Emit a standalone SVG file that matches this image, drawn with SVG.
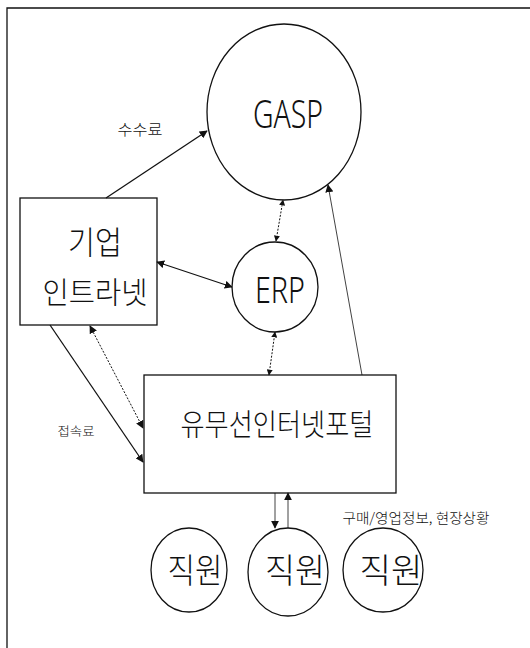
<svg xmlns="http://www.w3.org/2000/svg" width="530" height="648" viewBox="0 0 530 648">
<style>
.shape{fill:none;stroke:#111;stroke-width:1.3}
.t{font-family:"Noto Sans CJK KR","Liberation Sans",sans-serif;font-weight:300;fill:#111;text-anchor:middle}
.l{font-family:"Noto Sans","Liberation Sans",sans-serif;font-weight:300;fill:#111;text-anchor:middle}
.c{stroke:#111;fill:none}
.solid{stroke-width:1.3}
.thin{stroke-width:0.8}
.dot{stroke-width:1;stroke-dasharray:2 1.5}
</style>
<defs>
<marker id="ah" viewBox="0 0 10 10" refX="9" refY="5" markerWidth="8" markerHeight="8" markerUnits="userSpaceOnUse" orient="auto-start-reverse"><path d="M0,0 L10,5 L0,10 Z" fill="#111"/></marker>
<marker id="ahs" viewBox="0 0 10 10" refX="9" refY="5" markerWidth="6" markerHeight="6" markerUnits="userSpaceOnUse" orient="auto-start-reverse"><path d="M0,0 L10,5 L0,10 Z" fill="#111"/></marker>
</defs>
<rect width="530" height="648" fill="#fff"/>
<path d="M7,648 V8 H530" class="shape"/>
<g id="gasp"><ellipse cx="284" cy="112" rx="77" ry="88" class="shape"/><text class="l" x="288" y="128" font-size="38" textLength="70" lengthAdjust="spacingAndGlyphs">GASP</text></g>
<g id="intranet"><rect x="20" y="198" width="137" height="127" class="shape"/><text class="t" x="95" y="254" font-size="32" textLength="54" lengthAdjust="spacingAndGlyphs">기업</text><text class="t" x="95" y="303" font-size="30" textLength="105" lengthAdjust="spacingAndGlyphs">인트라넷</text></g>
<g id="erp"><ellipse cx="275" cy="287" rx="43" ry="45" class="shape"/><text class="l" x="280" y="303" font-size="36" textLength="50" lengthAdjust="spacingAndGlyphs">ERP</text></g>
<g id="portal"><rect x="144" y="375" width="252" height="118" class="shape"/><text class="t" x="277" y="435" font-size="30" textLength="193" lengthAdjust="spacingAndGlyphs">유무선인터넷포털</text></g>
<g id="staff1"><ellipse cx="189" cy="570" rx="38" ry="42" class="shape"/><text class="t" x="195" y="583" font-size="34" textLength="55" lengthAdjust="spacingAndGlyphs">직원</text></g>
<g id="staff2"><ellipse cx="288" cy="572" rx="40" ry="44" class="shape"/><text class="t" x="295" y="583" font-size="34" textLength="60" lengthAdjust="spacingAndGlyphs">직원</text></g>
<g id="staff3"><ellipse cx="383" cy="570" rx="40" ry="42" class="shape"/><text class="t" x="391" y="583" font-size="34" textLength="63" lengthAdjust="spacingAndGlyphs">직원</text></g>
<g id="connectors">
<line x1="106" y1="198" x2="207" y2="131" class="c solid" marker-end="url(#ah)"/>
<line x1="276" y1="241" x2="283" y2="200" class="c dot" marker-start="url(#ahs)" marker-end="url(#ahs)"/>
<line x1="362" y1="375" x2="328" y2="185" class="c thin" marker-end="url(#ah)"/>
<line x1="157" y1="262" x2="232" y2="287" class="c solid" marker-start="url(#ah)" marker-end="url(#ah)"/>
<line x1="269" y1="375" x2="275" y2="332" class="c dot" marker-start="url(#ahs)" marker-end="url(#ahs)"/>
<line x1="50" y1="325" x2="143" y2="462" class="c solid" marker-end="url(#ah)"/>
<line x1="90" y1="326" x2="143" y2="428" class="c dot thin" marker-start="url(#ah)" marker-end="url(#ah)"/>
<line x1="275" y1="493" x2="275" y2="528" class="c thin" marker-end="url(#ah)"/>
<line x1="288" y1="528" x2="288" y2="493" class="c thin" marker-end="url(#ah)"/>
</g>
<text class="t" x="140" y="135" font-size="15" textLength="45" lengthAdjust="spacingAndGlyphs">수수료</text>
<text class="t" x="76" y="436" font-size="12" textLength="37" lengthAdjust="spacingAndGlyphs">접속료</text>
<text class="t" x="416" y="523" font-size="14" textLength="147" lengthAdjust="spacingAndGlyphs">구매/영업정보, 현장상황</text>
</svg>
